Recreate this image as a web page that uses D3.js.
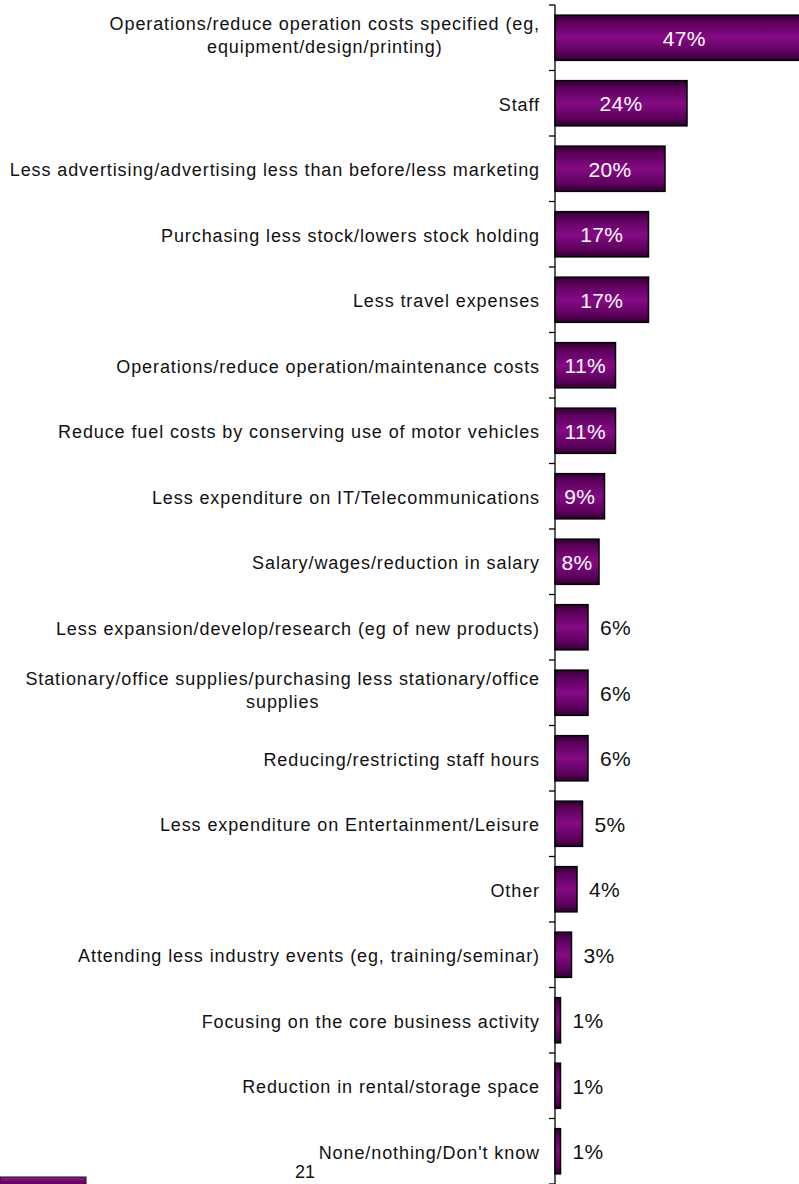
<!DOCTYPE html>
<html>
<head>
<meta charset="utf-8">
<script src="https://cdn.jsdelivr.net/npm/d3@7"></script>
<style>
  html, body { margin: 0; padding: 0; background: #fff; overflow: hidden; }
  svg { display: block; }
  text { font-family: "Liberation Sans", Arial, Helvetica, sans-serif; }
</style>
</head>
<body>
<svg id="chart" width="799" height="1184"></svg>
<script>
// Ways businesses have cut costs (share of respondents, %)
const categories = [
  "Operations/reduce operation costs specified (eg,\nequipment/design/printing)",
  "Staff",
  "Less advertising/advertising less than before/less marketing",
  "Purchasing less stock/lowers stock holding",
  "Less travel expenses",
  "Operations/reduce operation/maintenance costs",
  "Reduce fuel costs by conserving use of motor vehicles",
  "Less expenditure on IT/Telecommunications",
  "Salary/wages/reduction in salary",
  "Less expansion/develop/research (eg of new products)",
  "Stationary/office supplies/purchasing less stationary/office\nsupplies",
  "Reducing/restricting staff hours",
  "Less expenditure on Entertainment/Leisure",
  "Other",
  "Attending less industry events (eg, training/seminar)",
  "Focusing on the core business activity",
  "Reduction in rental/storage space",
  "None/nothing/Don't know"
];
const values = [47, 24, 20, 17, 17, 11, 11, 9, 8, 6, 6, 6, 5, 4, 3, 1, 1, 1];
const pageNumber = "21";

const svg = d3.select("#chart");
const axisX = 555;
const labelRight = 540;

const y = d3.scaleBand()
  .domain(categories)
  .range([5, 1184])
  .paddingInner(0.31)
  .paddingOuter(0.155);

const x = d3.scaleLinear()
  .domain([0, 47])
  .range([axisX, axisX + 258.5]);

// vertical shading for the bars
const defs = svg.append("defs");
const grad = defs.append("linearGradient")
  .attr("id", "barShade")
  .attr("x1", 0).attr("y1", 0).attr("x2", 0).attr("y2", 1);
[[0, "#2e002e"], [0.15, "#5a005a"], [0.5, "#850a85"], [0.85, "#5a005a"], [1, "#2e002e"]]
  .forEach(([o, c]) => grad.append("stop").attr("offset", o).attr("stop-color", c));

const gradH = defs.append("linearGradient")
  .attr("id", "footShade")
  .attr("x1", 0).attr("y1", 0).attr("x2", 0).attr("y2", 1);
[[0, "#8a2a8a"], [0.5, "#6e006e"], [1, "#3a003a"]]
  .forEach(([o, c]) => gradH.append("stop").attr("offset", o).attr("stop-color", c));

// bars
svg.append("g").selectAll("rect")
  .data(categories)
  .join("rect")
  .attr("x", x(0))
  .attr("y", d => y(d))
  .attr("width", (d, i) => x(values[i]) - x(0))
  .attr("height", y.bandwidth())
  .attr("fill", "url(#barShade)")
  .attr("stroke", "#000")
  .attr("stroke-width", 1.5);

// axis with ticks between categories
const bandEdges = categories.map(c => y(c) - y.step() * y.paddingInner() / 2);
bandEdges.push(1184);
const axisG = svg.append("g");
axisG.append("line")
  .attr("x1", axisX).attr("x2", axisX)
  .attr("y1", 5).attr("y2", 1184)
  .attr("stroke", "#000").attr("stroke-width", 1.3);
axisG.selectAll("line.tick")
  .data(bandEdges)
  .join("line")
  .attr("class", "tick")
  .attr("x1", axisX - 6).attr("x2", axisX)
  .attr("y1", d => d).attr("y2", d => d)
  .attr("stroke", "#000").attr("stroke-width", 1.3);

// category labels (multi-line labels are centred under their widest line)
const lineH = 23;
svg.append("g").selectAll("text")
  .data(categories)
  .join("text")
  .attr("font-size", 18)
  .attr("letter-spacing", 0.9)
  .attr("fill", "#111")
  .each(function (d) {
    const lines = d.split("\n");
    const n = lines.length;
    const cy = y(d) + y.bandwidth() / 2;
    const t = d3.select(this);
    const spans = lines.map((ln, k) =>
      t.append("tspan")
        .attr("x", 0)
        .attr("y", cy + 7.5 + (k - (n - 1) / 2) * lineH - (n > 1 ? 4 : 0))
        .text(ln));
    if (n > 1) {
      const w = d3.max(spans, s => s.node().getComputedTextLength());
      t.attr("text-anchor", "middle");
      spans.forEach(s => s.attr("x", labelRight - w / 2));
    } else {
      t.attr("text-anchor", "end");
      spans.forEach(s => s.attr("x", labelRight));
    }
  });

// value labels: inside (white) for wide bars, outside (black) for narrow ones
svg.append("g").selectAll("text")
  .data(categories)
  .join("text")
  .attr("font-size", 21)
  .attr("letter-spacing", 0.3)
  .attr("y", d => y(d) + y.bandwidth() / 2 + 8)
  .attr("x", (d, i) => values[i] >= 8 ? (x(0) + x(values[i])) / 2 : x(values[i]) + 12)
  .attr("text-anchor", (d, i) => values[i] >= 8 ? "middle" : "start")
  .attr("fill", (d, i) => values[i] >= 8 ? "#fff" : "#111")
  .text((d, i) => values[i] + "%");

// page footer
svg.append("text")
  .attr("x", 305).attr("y", 1178)
  .attr("text-anchor", "middle")
  .attr("font-size", 18)
  .attr("fill", "#111")
  .text(pageNumber);

svg.append("rect")
  .attr("x", 0).attr("y", 1177)
  .attr("width", 86).attr("height", 10)
  .attr("fill", "url(#footShade)")
  .attr("stroke", "#111").attr("stroke-width", 1);
</script>
</body>
</html>
